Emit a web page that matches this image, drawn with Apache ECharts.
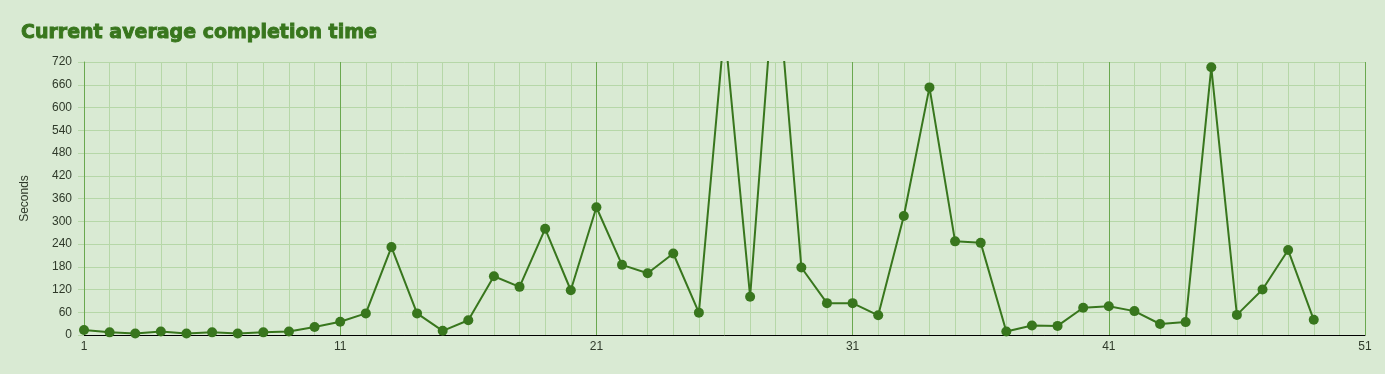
<!DOCTYPE html>
<html>
<head>
<meta charset="utf-8">
<script src="https://cdn.jsdelivr.net/npm/echarts@6/dist/echarts.min.js"></script>
<style>
html,body{margin:0;padding:0;background:#d9ead3;}
#c{width:1385px;height:374px;}
</style>
</head>
<body>
<div id="c"></div>
<script>
const titleText = 'Current average completion time';
const yAxisName = 'Seconds';
const xValues = [1,2,3,4,5,6,7,8,9,10,11,12,13,14,15,16,17,18,19,20,21,22,23,24,25,26,27,28,29,30,31,32,33,34,35,36,37,38,39,40,41,42,43,44,45,46,47,48,49];
const seconds = [13,7,4,9,4,7,4,7,9,21,35,57,232,57,11,39,155,127,280,118,337,185,163,215,59,810,101,990,178,84,84,52,314,653,247,243,9,25,24,72,76,63,29,34,706,53,120,224,40];
const xMin = 1, xMax = 51, xStep = 10;
const yMin = 0, yMax = 720, yStep = 60;

const chart = echarts.init(document.getElementById('c'), null, {renderer:'canvas'});
chart.setOption({
  backgroundColor: '#d9ead3',
  animation: false,
  title: {
    text: titleText,
    left: 16, top: 19,
    textStyle: {fontFamily: 'DejaVu Sans', fontWeight: 'bold', fontSize: 19, color: '#38761d',
      textBorderColor: '#38761d', textBorderWidth: 0.9}
  },
  grid: {left: 84, right: 20, top: 62, bottom: 39},
  xAxis: {
    type: 'value', min: xMin, max: xMax, interval: xStep,
    axisLine: {show: true, onZero: false, lineStyle: {color: '#000', width: 1}},
    axisTick: {show: false},
    axisLabel: {color: '#2f3a2a', fontFamily: 'Liberation Sans', fontSize: 12, margin: 6},
    splitLine: {show: true, lineStyle: {color: '#6aa84f', width: 1}},
    minorTick: {show: false, splitNumber: 10},
    minorSplitLine: {show: true, lineStyle: {color: '#b6d7a8', width: 1}}
  },
  yAxis: {
    type: 'value', min: yMin, max: yMax, interval: yStep,
    name: yAxisName, nameLocation: 'middle', nameGap: 53, nameRotate: 90,
    nameTextStyle: {color: '#2f3a2a', fontFamily: 'Liberation Sans', fontSize: 12},
    axisLine: {show: true, lineStyle: {color: '#6aa84f', width: 1}},
    axisTick: {show: true, length: 6, lineStyle: {color: '#b6d7a8'}},
    axisLabel: {color: '#2f3a2a', fontFamily: 'Liberation Sans', fontSize: 12, margin: 12},
    splitLine: {show: true, lineStyle: {color: '#b6d7a8', width: 1}}
  },
  series: [{
    type: 'line',
    data: xValues.map((x, i) => [x, seconds[i]]),
    clip: true,
    symbol: 'circle', symbolSize: 10,
    showAllSymbol: true,
    lineStyle: {color: '#38761d', width: 2},
    itemStyle: {color: '#38761d'},
    z: 5
  }]
});
</script>
</body>
</html>
